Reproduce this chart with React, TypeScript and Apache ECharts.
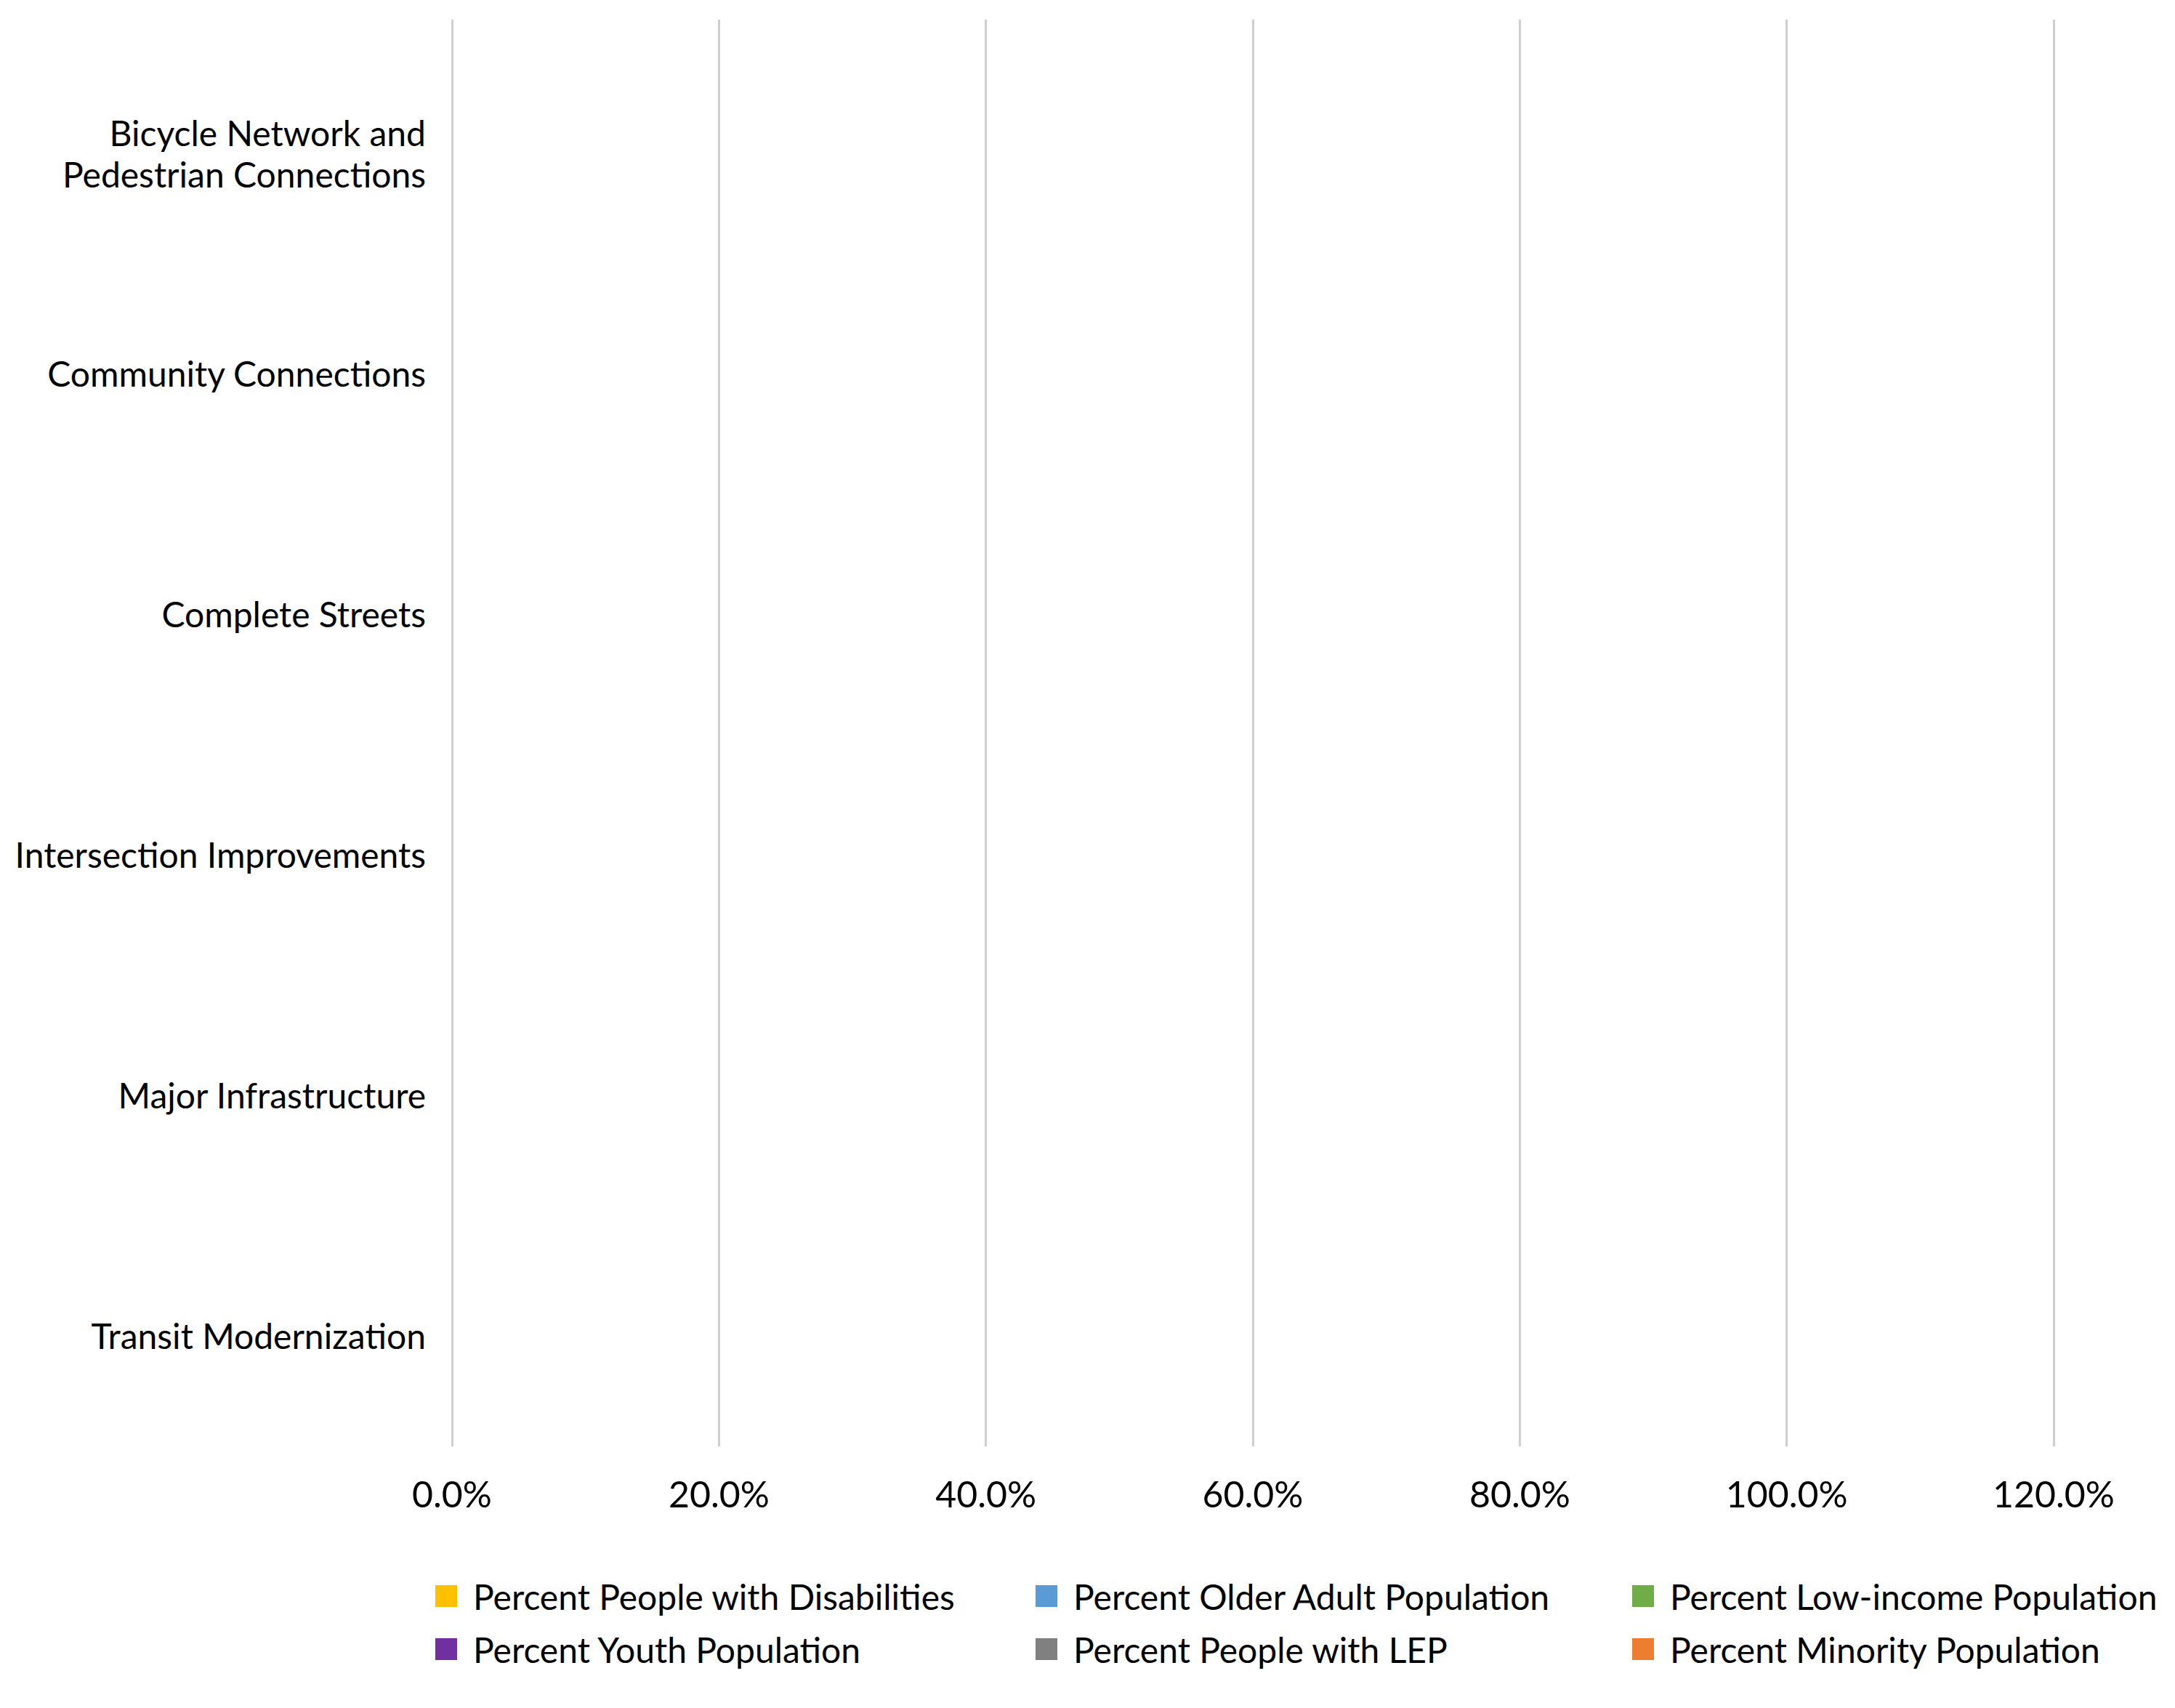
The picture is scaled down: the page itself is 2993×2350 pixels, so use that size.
import React, { useEffect, useRef } from "react";
import * as echarts from "echarts";

const categories = [
  "Bicycle Network and\nPedestrian Connections",
  "Community Connections",
  "Complete Streets",
  "Intersection Improvements",
  "Major Infrastructure",
  "Transit Modernization",
];

const seriesNames = [
  "Percent People with Disabilities",
  "Percent Older Adult Population",
  "Percent Low-income Population",
  "Percent Youth Population",
  "Percent People with LEP",
  "Percent Minority Population",
];

const seriesColors = ["#FFC000", "#5B9BD5", "#70AD47", "#7030A0", "#808080", "#ED7D31"];

// No bars are visible in the reference: every value reads as zero.
const disabilities = [0, 0, 0, 0, 0, 0];
const olderAdult = [0, 0, 0, 0, 0, 0];
const lowIncome = [0, 0, 0, 0, 0, 0];
const youth = [0, 0, 0, 0, 0, 0];
const lep = [0, 0, 0, 0, 0, 0];
const minority = [0, 0, 0, 0, 0, 0];

const seriesValues = [disabilities, olderAdult, lowIncome, youth, lep, minority];

const xTicks = { min: 0, max: 1.2, interval: 0.2 };

const FONT = "Lato, 'Noto Sans', sans-serif";

export default function App() {
  const ref = useRef<HTMLDivElement>(null);
  useEffect(() => {
    document.body.style.margin = "0";
    if (!ref.current) return;
    const chart = echarts.init(ref.current, null, { renderer: "svg" });
    const legendPos = [
      [599, 2172],
      [1425, 2172],
      [2246, 2172],
      [599, 2245],
      [1425, 2245],
      [2246, 2245],
    ];
    const labelRich = {
      s: { fontSize: 48, lineHeight: 57, color: "#000", fontFamily: FONT },
      a: { fontSize: 48, lineHeight: 57, color: "#000", fontFamily: FONT },
    };
    chart.setOption({
      animation: false,
      backgroundColor: "#ffffff",
      textStyle: { fontFamily: FONT },
      color: seriesColors,
      grid: [
        { left: 622, right: 167, top: 17, bottom: 347, containLabel: false },
        { left: 622, right: 167, top: 27, bottom: 360, containLabel: false },
      ],
      xAxis: [
        {
          type: "value",
          gridIndex: 0,
          min: xTicks.min,
          max: xTicks.max,
          interval: xTicks.interval,
          axisLine: { show: false },
          axisTick: { show: false },
          splitLine: { show: false },
          axisLabel: { show: false },
        },
        {
          type: "value",
          gridIndex: 1,
          min: xTicks.min,
          max: xTicks.max,
          interval: xTicks.interval,
          axisLine: { show: false },
          axisTick: { show: false },
          splitLine: { show: true, lineStyle: { color: "#CFCFCF", width: 3 } },
          axisLabel: {
            margin: 40,
            fontSize: 50,
            color: "#000",
            fontFamily: FONT,
            formatter: (v: number) => (v * 100).toFixed(1) + "%",
          },
        },
      ],
      yAxis: [
        {
          type: "category",
          gridIndex: 0,
          data: categories,
          inverse: true,
          axisLine: { show: false },
          axisTick: { show: false },
          splitLine: { show: false },
          axisLabel: {
            margin: 36,
            fontSize: 48,
            lineHeight: 57,
            color: "#000",
            fontFamily: FONT,
            align: "right",
            rich: labelRich,
            formatter: (value: string) =>
              value.indexOf("\n") >= 0
                ? "{s| }\n" +
                  value
                    .split("\n")
                    .map((l) => "{a|" + l + "}")
                    .join("\n")
                : value,
          },
        },
        {
          type: "value",
          gridIndex: 1,
          show: false,
          axisLine: { show: false },
          axisTick: { show: false },
          splitLine: { show: false },
          axisLabel: { show: false },
        },
      ],
      legend: seriesNames.map((name, i) => ({
        data: [name],
        left: legendPos[i][0],
        top: legendPos[i][1],
        itemWidth: 30,
        itemHeight: 30,
        icon: "rect",
        padding: 0,
        selectedMode: false,
        textStyle: {
          fontSize: 48,
          color: "#000",
          fontFamily: FONT,
          padding: [0, 0, 0, 17],
        },
      })),
      series: seriesNames.map((name, i) => ({
        name,
        type: "bar",
        xAxisIndex: 0,
        yAxisIndex: 0,
        data: seriesValues[i],
        itemStyle: { color: seriesColors[i] },
      })),
    });
    return () => chart.dispose();
  }, []);
  return <div ref={ref} style={{ width: 2993, height: 2350 }} />;
}
